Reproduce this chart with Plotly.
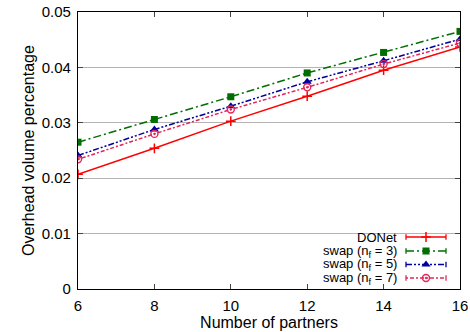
import plotly.graph_objects as go

partners = [6, 8, 10, 12, 14, 16]
donet = [0.0207, 0.0254, 0.0303, 0.0348, 0.0395, 0.0437]
swap3 = [0.0265, 0.0306, 0.0347, 0.0390, 0.0427, 0.0465]
swap5 = [0.0241, 0.0288, 0.0330, 0.0374, 0.0412, 0.0451]
swap7 = [0.0234, 0.0280, 0.0324, 0.0364, 0.0406, 0.0444]
names = ["DONet", "swap (n<sub>f</sub> = 3)", "swap (n<sub>f</sub> = 5)", "swap (n<sub>f</sub> = 7)"]
x_ticks = [6, 8, 10, 12, 14, 16]
y_ticks = [0, 0.01, 0.02, 0.03, 0.04, 0.05]
y_tick_labels = ["0", "0.01", "0.02", "0.03", "0.04", "0.05"]

FONT = "Liberation Sans, Arial, Helvetica, sans-serif"
styles = [
    dict(color="#ff0000", dash="solid", symbol="cross-thin", size=7, mline=1.5),
    dict(color="#006e00", dash="8px,3px,2px,3px", symbol="square", size=7, mline=0),
    dict(color="#00009a", dash="6px,2px,2px,2px,2px,2px", symbol="triangle-up", size=8, mline=0),
    dict(color="#e3265a", dash="2px,2px,4px,2px", symbol="circle-open-dot", size=7, mline=1.4),
]
series = [donet, swap3, swap5, swap7]

fig = go.Figure()
for vals, st, nm in zip(series, styles, names):
    fig.add_trace(go.Scatter(
        x=partners, y=vals, mode="lines+markers", name=nm, showlegend=False,
        line=dict(color=st["color"], width=1.5, dash=st["dash"]),
        marker=dict(symbol=st["symbol"], size=st["size"], color=st["color"],
                    line=dict(color=st["color"], width=st["mline"])),
    ))

# manual legend (text right-aligned, sample on the right, gnuplot style)
L, R = 78, 460
T, B = 12, 289
def px(x):
    return (x - L) / (R - L)
def py(y):
    return (B - y) / (B - T)

rows = [237, 251, 264.5, 278]
sx0, sx1, sxm = px(406), px(446), px(426)
for st, nm, ry in zip(styles, names, rows):
    yy = py(ry)
    fig.add_trace(go.Scatter(
        x=[sx0, sxm, sx1], y=[yy, yy, yy], xaxis="x2", yaxis="y2",
        mode="lines", showlegend=False, hoverinfo="skip",
        line=dict(color=st["color"], width=1.5, dash=st["dash"]),
        error_y=dict(type="data", array=[0.01, 0, 0.01], color=st["color"], thickness=1.3, width=0),
    ))
    fig.add_trace(go.Scatter(
        x=[sxm], y=[yy], xaxis="x2", yaxis="y2", mode="markers", showlegend=False,
        hoverinfo="skip",
        marker=dict(symbol=st["symbol"], size=st["size"], color=st["color"],
                    line=dict(color=st["color"], width=st["mline"])),
    ))
    fig.add_annotation(x=px(398), y=yy, xref="paper", yref="paper", text=nm,
                       xanchor="right", yanchor="middle", showarrow=False,
                       borderpad=0,
                       font=dict(family=FONT, size=13, color="black"))

fig.add_shape(type="rect", xref="paper", yref="paper", x0=px(303), x1=px(458),
              y0=py(286), y1=py(227), fillcolor="white", line=dict(width=0), layer="between")

fig.update_layout(
    width=470, height=332,
    margin=dict(l=L, r=470 - R, t=T, b=332 - B, autoexpand=False),
    paper_bgcolor="white", plot_bgcolor="white",
    font=dict(family=FONT, size=15, color="black"),
    xaxis=dict(range=[6, 16], tickvals=x_ticks, ticks="inside", ticklen=5, mirror="ticks",
               showline=True, linecolor="black", linewidth=1.2, showgrid=False, zeroline=False,
               automargin=False, ticklabelstandoff=3,
               title=dict(text="Number of partners", font=dict(size=16), standoff=2),
               tickfont=dict(size=15)),
    yaxis=dict(range=[0, 0.05], tickvals=y_ticks, ticktext=y_tick_labels, ticks="inside",
               ticklen=5, mirror="ticks", showline=True, linecolor="black", linewidth=1.2,
               showgrid=True, gridcolor="#b4b4b4", gridwidth=1, zeroline=False,
               automargin=False, ticklabelstandoff=3,
               title=dict(text="Overhead volume percentage", font=dict(size=16), standoff=3),
               tickfont=dict(size=15)),
    xaxis2=dict(overlaying="x", range=[0, 1], visible=False, anchor="y2"),
    yaxis2=dict(overlaying="y", range=[0, 1], visible=False, anchor="x2"),
)

fig.write_html("out.html")
